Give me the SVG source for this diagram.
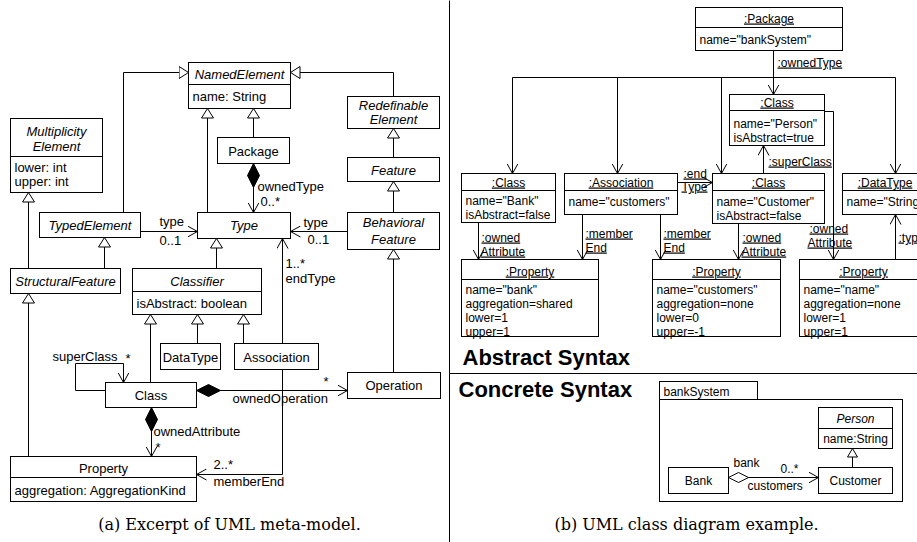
<svg xmlns="http://www.w3.org/2000/svg" width="917" height="542" viewBox="0 0 917 542">
<style>
.b{fill:#fff;stroke:#000;stroke-width:1}
.s{stroke:#000;stroke-width:1;fill:none}
text{font-family:"Liberation Sans",Arial,Helvetica,sans-serif;font-size:13px;fill:#000}
.r text,text.r{font-size:12px}
.i{font-style:italic}
.u{text-decoration:underline}
.c{text-anchor:middle}
.h{font-size:22px;font-weight:bold}
.cap{font-family:"DejaVu Serif","Liberation Serif",serif;font-size:16px;text-anchor:middle}
#connectors path{fill:none;stroke:#000;stroke-width:1}
</style>
<defs>
<marker id="open" viewBox="0 0 11 12" refX="10" refY="6" markerWidth="11" markerHeight="12" orient="auto" markerUnits="userSpaceOnUse"><path d="M0,0.5 L10,6 L0,11.5" fill="none" stroke="#000"/></marker>
<marker id="tri" viewBox="0 0 11 14" refX="10" refY="7" markerWidth="11" markerHeight="14" orient="auto" markerUnits="userSpaceOnUse"><path d="M0.5,1 L10,7 L0.5,13 Z" fill="#fff" stroke="#000"/></marker>
<marker id="tris" viewBox="0 0 10 12" refX="9" refY="6" markerWidth="10" markerHeight="12" orient="auto" markerUnits="userSpaceOnUse"><path d="M0.5,1 L9,6 L0.5,11 Z" fill="#fff" stroke="#000"/></marker>
<marker id="dia" viewBox="0 0 25 13" refX="0.5" refY="6.5" markerWidth="25" markerHeight="13" orient="auto" markerUnits="userSpaceOnUse"><path d="M0.5,6.5 L12.5,0.5 L24.5,6.5 L12.5,12.5 Z" fill="#000" stroke="#000"/></marker>
<marker id="hdia" viewBox="0 0 21 11" refX="0.5" refY="5.5" markerWidth="21" markerHeight="11" orient="auto" markerUnits="userSpaceOnUse"><path d="M0.5,5.5 L10.5,0.5 L20.5,5.5 L10.5,10.5 Z" fill="#fff" stroke="#000"/></marker>
</defs>
<rect x="0" y="0" width="917" height="542" fill="#fff"/>
<g transform="translate(0.5,0.5)">
<line class="s" x1="449" y1="0" x2="449" y2="542"/>
<line class="s" x1="449" y1="373" x2="917" y2="373"/>

<!-- left nodes -->
<g id="NamedElement"><rect class="b" x="188" y="62" width="102" height="46"/><line class="s" x1="188" y1="84" x2="290" y2="84"/><text class="i c" x="239" y="78">NamedElement</text><text x="192" y="100">name: String</text></g>
<g id="MultiplicityElement"><rect class="b" x="10" y="118" width="92" height="74"/><line class="s" x1="10" y1="156" x2="102" y2="156"/><text class="i c" x="56" y="135">Multiplicity</text><text class="i c" x="56" y="150">Element</text><text x="14" y="171">lower: int</text><text x="14" y="185">upper: int</text></g>
<g id="TypedElement"><rect class="b" x="39" y="212" width="101" height="25"/><text class="i c" x="89.5" y="229">TypedElement</text></g>
<g id="Type"><rect class="b" x="197" y="212" width="93" height="26"/><text class="i c" x="243.5" y="229">Type</text></g>
<g id="Package"><rect class="b" x="217" y="137" width="72" height="26"/><text class="c" x="253" y="155">Package</text></g>
<g id="RedefinableElement"><rect class="b" x="347" y="96" width="92" height="32"/><text class="i c" x="393" y="109">Redefinable</text><text class="i c" x="393" y="123">Element</text></g>
<g id="Feature"><rect class="b" x="347" y="157" width="92" height="24"/><text class="i c" x="393" y="174">Feature</text></g>
<g id="BehavioralFeature"><rect class="b" x="347" y="212" width="92" height="37"/><text class="i c" x="393" y="226">Behavioral</text><text class="i c" x="393" y="243">Feature</text></g>
<g id="StructuralFeature"><rect class="b" x="10" y="268" width="110" height="25"/><text class="i c" x="65" y="285">StructuralFeature</text></g>
<g id="Classifier"><rect class="b" x="132" y="268" width="129" height="46"/><line class="s" x1="132" y1="291" x2="261" y2="291"/><text class="i c" x="196.5" y="285">Classifier</text><text x="136" y="307">isAbstract: boolean</text></g>
<g id="DataType"><rect class="b" x="160" y="343" width="60" height="26"/><text class="c" x="190" y="361">DataType</text></g>
<g id="Association"><rect class="b" x="234" y="343" width="84" height="26"/><text class="c" x="276" y="361">Association</text></g>
<g id="Class"><rect class="b" x="105" y="382" width="91" height="25"/><text class="c" x="150.5" y="399">Class</text></g>
<g id="Operation"><rect class="b" x="347" y="372" width="93" height="26"/><text class="c" x="393.5" y="389">Operation</text></g>
<g id="Property"><rect class="b" x="10" y="456" width="186" height="45"/><line class="s" x1="10" y1="477" x2="196" y2="477"/><text class="c" x="103" y="472">Property</text><text x="14" y="494">aggregation: AggregationKind</text></g>

<!-- right nodes -->
<g class="r">
<g id="objPackage"><rect class="b" x="695" y="7" width="147" height="43"/><line class="s" x1="695" y1="27" x2="842" y2="27"/><text class="u c" x="768.5" y="22">:Package</text><text x="699" y="43">name="bankSystem"</text></g>
<g id="objPerson"><rect class="b" x="729" y="94" width="95" height="51"/><line class="s" x1="729" y1="110" x2="824" y2="110"/><text class="u c" x="776.5" y="106">:Class</text><text x="733" y="127">name="Person"</text><text x="733" y="141">isAbstract=true</text></g>
<g id="objBank"><rect class="b" x="461" y="173" width="94" height="49"/><line class="s" x1="461" y1="190" x2="555" y2="190"/><text class="u c" x="508" y="186">:Class</text><text x="465" y="204">name="Bank"</text><text x="465" y="218">isAbstract=false</text></g>
<g id="objAssociation"><rect class="b" x="564" y="173" width="113" height="41"/><line class="s" x1="564" y1="190" x2="677" y2="190"/><text class="u c" x="620.5" y="186">:Association</text><text x="568" y="205">name="customers"</text></g>
<g id="objCustomer"><rect class="b" x="712" y="173" width="112" height="50"/><line class="s" x1="712" y1="190" x2="824" y2="190"/><text class="u c" x="768" y="186">:Class</text><text x="716" y="205">name="Customer"</text><text x="716" y="219">isAbstract=false</text></g>
<g id="objDataType"><rect class="b" x="842" y="173" width="90" height="41"/><line class="s" x1="842" y1="190" x2="932" y2="190"/><text class="u c" x="884.5" y="186">:DataType</text><text x="846" y="205">name="String"</text></g>
<g id="propBank"><rect class="b" x="461" y="259" width="137" height="77"/><line class="s" x1="461" y1="279" x2="598" y2="279"/><text class="u c" x="529.5" y="275">:Property</text><text x="465" y="293">name="bank"</text><text x="465" y="307">aggregation=shared</text><text x="465" y="321">lower=1</text><text x="465" y="335">upper=1</text></g>
<g id="propCustomers"><rect class="b" x="652" y="259" width="128" height="77"/><line class="s" x1="652" y1="279" x2="780" y2="279"/><text class="u c" x="716" y="275">:Property</text><text x="656" y="293">name="customers"</text><text x="656" y="307">aggregation=none</text><text x="656" y="321">lower=0</text><text x="656" y="335">upper=-1</text></g>
<g id="propName"><rect class="b" x="799" y="259" width="128" height="77"/><line class="s" x1="799" y1="279" x2="927" y2="279"/><text class="u c" x="863" y="275">:Property</text><text x="803" y="293">name="name"</text><text x="803" y="307">aggregation=none</text><text x="803" y="321">lower=1</text><text x="803" y="335">upper=1</text></g>

<g id="bankSystem"><rect class="b" x="659" y="381" width="98" height="18"/><rect class="b" x="659" y="399" width="243" height="102"/><text x="663" y="395">bankSystem</text></g>
<g id="Person"><rect class="b" x="818" y="407" width="74" height="41"/><line class="s" x1="818" y1="428" x2="892" y2="428"/><text class="i c" x="855" y="422">Person</text><text class="c" x="855" y="442">name:String</text></g>
<g id="Customer"><rect class="b" x="818" y="467" width="74" height="26"/><text class="c" x="855" y="484">Customer</text></g>
<g id="Bank"><rect class="b" x="668" y="467" width="60" height="26"/><text class="c" x="698" y="484">Bank</text></g>
</g>

<g id="connectors">
<!-- left meta-model -->
<path d="M123,212 V72 H188" marker-end="url(#tri)"/>
<path d="M393,96 V72 H290" marker-end="url(#tri)"/>
<path d="M207,212 V108" marker-end="url(#tri)"/>
<path d="M253,137 V108" marker-end="url(#tri)"/>
<path d="M253,163 V212" marker-start="url(#dia)" marker-end="url(#open)"/>
<path d="M393,157 V128" marker-end="url(#tri)"/>
<path d="M393,212 V181" marker-end="url(#tri)"/>
<path d="M140,231 H197" marker-end="url(#open)"/>
<path d="M347,231 H290" marker-end="url(#open)"/>
<path d="M104,268 V237" marker-end="url(#tri)"/>
<path d="M28,268 V192" marker-end="url(#tri)"/>
<path d="M216,268 V238" marker-end="url(#tri)"/>
<path d="M150,382 V314" marker-end="url(#tri)"/>
<path d="M197,343 V314" marker-end="url(#tri)"/>
<path d="M243,343 V314" marker-end="url(#tri)"/>
<path d="M282,343 V238" marker-end="url(#open)"/>
<path d="M282,369 V474 H196" marker-end="url(#open)"/>
<path d="M393,372 V249" marker-end="url(#tri)"/>
<path d="M196,390 H347" marker-start="url(#dia)" marker-end="url(#open)"/>
<path d="M105,390 H75 V363 H123 V382" marker-end="url(#open)"/>
<path d="M28,456 V293" marker-end="url(#tri)"/>
<path d="M151,407 V456" marker-start="url(#dia)" marker-end="url(#open)"/>
<text x="159" y="225">type</text>
<text x="159" y="244">0..1</text>
<text x="303" y="226">type</text>
<text x="307" y="243">0..1</text>
<text x="257" y="190">ownedType</text>
<text x="260" y="205">0..*</text>
<text x="285" y="267">1..*</text>
<text x="285" y="282">endType</text>
<text x="52" y="360">superClass</text>
<text x="125" y="362">*</text>
<text x="323" y="385">*</text>
<text x="232" y="402">ownedOperation</text>
<text x="153" y="435">ownedAttribute</text>
<text x="155" y="451">*</text>
<text x="213" y="468">2..*</text>
<text x="213" y="485">memberEnd</text>
<!-- right abstract syntax -->
<path d="M773,50 V94" marker-end="url(#open)"/>
<path d="M512,77 H895 V173" marker-end="url(#open)"/>
<path d="M512,77 V173" marker-end="url(#open)"/>
<path d="M617,77 V173" marker-end="url(#open)"/>
<path d="M721,77 V173" marker-end="url(#open)"/>
<path d="M763,173 V145" marker-end="url(#open)"/>
<path d="M824,111 H833 V259" marker-end="url(#open)"/>
<path d="M677,182 H712" marker-end="url(#open)"/>
<path d="M478,222 V259" marker-end="url(#open)"/>
<path d="M582,214 V259" marker-end="url(#open)"/>
<path d="M660,214 V259" marker-end="url(#open)"/>
<path d="M738,223 V259" marker-end="url(#open)"/>
<path d="M895,259 V214" marker-end="url(#open)"/>
<g class="r">
<text class="u" x="777" y="66">:ownedType</text>
<text class="u" x="768" y="165">:superClass</text>
<text class="u" x="683" y="177">:end</text>
<text class="u" x="681" y="190">Type</text>
<text class="u" x="481" y="241">:owned</text>
<text class="u" x="480" y="255">Attribute</text>
<text class="u" x="585" y="237">:member</text>
<text class="u" x="585" y="251">End</text>
<text class="u" x="663" y="237">:member</text>
<text class="u" x="663" y="251">End</text>
<text class="u" x="742" y="241">:owned</text>
<text class="u" x="741" y="255">Attribute</text>
<text class="u" x="809" y="232">:owned</text>
<text class="u" x="807" y="246">Attribute</text>
<text class="u" x="898" y="241">:type</text>
</g>
<!-- concrete syntax -->
<path d="M852,467 V448" marker-end="url(#tris)"/>
<path d="M728,477 H818" marker-start="url(#hdia)" marker-end="url(#open)"/>
<g class="r">
<text x="733" y="466">bank</text>
<text x="780" y="472">0..*</text>
<text x="747" y="489">customers</text>
</g>
</g>

<text class="h" x="462" y="364">Abstract Syntax</text>
<text class="h" x="458" y="396">Concrete Syntax</text>
<text class="cap" x="229" y="529">(a) Excerpt of UML meta-model.</text>
<text class="cap" x="686" y="529">(b) UML class diagram example.</text>
</g>
</svg>
